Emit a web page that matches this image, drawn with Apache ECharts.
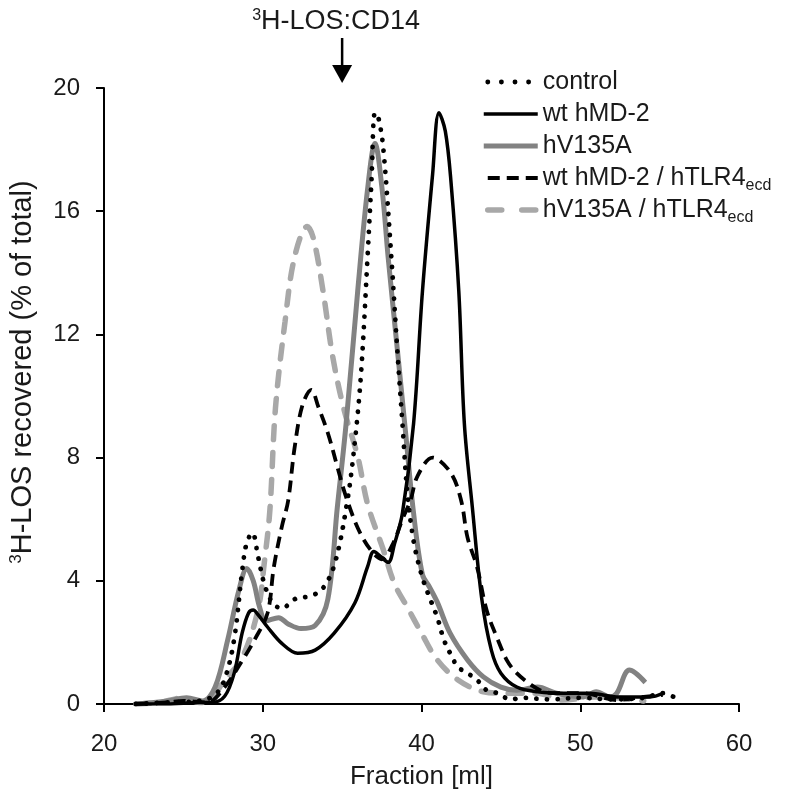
<!DOCTYPE html>
<html>
<head>
<meta charset="utf-8">
<script src="https://cdn.jsdelivr.net/npm/echarts@6/dist/echarts.min.js"></script>
<style>
html,body{margin:0;padding:0;background:#fff;}
#chart{width:800px;height:807px;}
</style>
</head>
<body>
<div id="chart"></div>
<script>
// ---- data ----
const xTicks = [20, 30, 40, 50, 60];
const yTicks = [0, 4, 8, 12, 16, 20];
const arrowAt = 35; // fraction where 3H-LOS:CD14 elutes

const controlX = [22, 24, 26, 27, 27.6, 28.2, 28.7, 29.0, 29.35, 29.7, 30.1, 30.6, 31.2, 32.0, 32.9, 33.7, 34.5, 35.3, 35.8, 36.2, 36.6, 36.85, 37.07, 37.3, 37.6, 38.1, 38.5, 38.8, 39.1, 39.5, 40.0, 40.4, 41.0, 41.4, 41.8, 42.3, 42.9, 43.5, 44.1, 44.8, 45.6, 46.4, 48.0, 50.0, 52.0, 54.0, 55.2, 56.0];
const controlY = [0, 0.05, 0.1, 0.3, 0.8, 2.1, 4.3, 5.26, 5.55, 4.8, 3.9, 3.3, 3.1, 3.4, 3.5, 3.7, 4.5, 6.5, 8.5, 10.8, 14.5, 17.0, 19.2, 19.0, 18.0, 14.5, 11.3, 9.1, 6.9, 5.3, 4.2, 3.6, 2.8, 2.1, 1.65, 1.2, 1.0, 0.78, 0.45, 0.35, 0.15, 0.2, 0.15, 0.2, 0.15, 0.2, 0.35, 0.2];

const wtX = [22, 24, 26, 26.8, 27.6, 28.2, 28.7, 29.1, 29.4, 29.7, 30.3, 31.2, 32.2, 33.3, 34.5, 35.8, 36.6, 37.0, 37.4, 37.9, 38.3, 38.8, 39.5, 40.06, 40.7, 41.1, 41.5, 41.85, 42.35, 42.7, 43.2, 43.8, 44.4, 45.0, 46.0, 47.3, 49.2, 50.6, 52.3, 54.4, 55.2];
const wtY = [0, 0, 0.05, 0.05, 0.25, 1.0, 2.3, 2.95, 3.05, 2.9, 2.5, 1.97, 1.65, 1.75, 2.3, 3.28, 4.45, 4.95, 4.8, 4.6, 5.2, 6.2, 9.1, 13.4, 17.2, 19.2, 18.6, 17.0, 13.4, 9.1, 6.4, 3.4, 1.75, 1.0, 0.55, 0.4, 0.35, 0.35, 0.23, 0.23, 0.35];

const hvX = [22, 24, 25.2, 26.2, 27.0, 27.8, 28.5, 29.0, 29.4, 29.8, 30.2, 31.0, 31.6, 32.4, 33.3, 34.1, 34.7, 35.25, 35.98, 36.6, 37.07, 37.5, 37.9, 38.5, 39.0, 39.5, 40.06, 40.5, 41.0, 41.8, 42.9, 43.9, 45.0, 46.0, 47.3, 48.5, 50.2, 51.0, 51.9, 52.3, 53.1, 54.1];
const hvY = [0, 0.1, 0.2, 0.1, 0.55, 2.1, 3.7, 4.4, 4.0, 3.15, 2.7, 2.8, 2.6, 2.45, 2.55, 3.4, 6.4, 9.1, 13.4, 16.7, 18.2, 16.8, 14.5, 11.4, 8.8, 6.2, 4.2, 3.8, 3.3, 2.3, 1.43, 0.88, 0.55, 0.45, 0.55, 0.35, 0.23, 0.4, 0.23, 0.35, 1.1, 0.7];

const wtTlrX = [22, 24, 25, 26.5, 27.6, 28.7, 29.5, 30.3, 30.7, 31.2, 31.6, 32.0, 32.5, 33.06, 33.5, 34.1, 34.7, 35.2, 36.0, 36.8, 37.5, 38.2, 38.8, 39.3, 39.75, 40.7, 41.85, 42.5, 42.9, 43.5, 44.1, 44.8, 45.4, 46.0, 46.9, 47.7, 48.5, 50.2, 52.3, 54.0, 55.2];
const wtTlrY = [0, 0.05, 0.1, 0.05, 0.55, 1.4, 2.1, 2.95, 4.45, 5.75, 6.6, 8.3, 9.7, 10.2, 9.65, 8.8, 7.7, 6.8, 5.7, 5.0, 4.7, 5.2, 6.0, 6.6, 7.4, 8.0, 7.5, 6.6, 5.4, 4.45, 3.05, 2.1, 1.4, 1.0, 0.62, 0.4, 0.35, 0.35, 0.13, 0.23, 0.3];

const hvTlrX = [22, 23.5, 25, 26, 26.6, 27.6, 28.7, 29.7, 30.1, 30.45, 30.8, 31.4, 32.0, 32.8, 33.2, 33.8, 34.4, 35.1, 36.0, 36.6, 37.6, 38.3, 39.1, 40.0, 41.0, 42.3, 43.9, 45.4, 47.3, 48.9, 51.0, 54.0];
const hvTlrY = [0, 0.05, 0.2, 0.05, 0.1, 0.78, 1.5, 3.05, 4.6, 6.3, 9.6, 12.4, 14.5, 15.5, 15.1, 13.4, 11.3, 9.6, 8.0, 6.5, 5.0, 3.9, 3.15, 2.3, 1.43, 0.78, 0.4, 0.35, 0.35, 0.13, 0.23, 0.1];

const seriesNames = ['control', 'wt hMD-2', 'hV135A', 'wt hMD-2 / hTLR4ecd', 'hV135A / hTLR4ecd'];

// ---- chart ----
const zip = (xs, ys) => xs.map((x, i) => [x, ys[i]]);
const FONT = 'Liberation Sans, Arial, sans-serif';
const TXT = '#1a1a1a';

const styles = {
  'control': { color: '#000', width: 4.8, type: [0.1, 10.5], cap: 'round' },
  'wt hMD-2': { color: '#000', width: 3.5, type: 'solid' },
  'hV135A': { color: '#828282', width: 5, type: 'solid' },
  'wt hMD-2 / hTLR4ecd': { color: '#000', width: 3.8, type: [12, 7] },
  'hV135A / hTLR4ecd': { color: '#a8a8a8', width: 5.5, type: [14, 13], cap: 'round' }
};
const legendStyles = Object.assign({}, styles, {
  'control': { color: '#000', width: 4.8, type: [0.1, 13.5], cap: 'round', dashOffset: -4 },
  'hV135A / hTLR4ecd': { color: '#a8a8a8', width: 5.5, type: [14, 20], cap: 'round', dashOffset: -4 }
});
const dataMap = {
  'control': zip(controlX, controlY),
  'wt hMD-2': zip(wtX, wtY),
  'hV135A': zip(hvX, hvY),
  'wt hMD-2 / hTLR4ecd': zip(wtTlrX, wtTlrY),
  'hV135A / hTLR4ecd': zip(hvTlrX, hvTlrY)
};
const drawOrder = ['hV135A / hTLR4ecd', 'hV135A', 'wt hMD-2 / hTLR4ecd', 'wt hMD-2', 'control'];

const chart = echarts.init(document.getElementById('chart'), null, { renderer: 'canvas' });
chart.setOption({
  animation: false,
  backgroundColor: '#fff',
  textStyle: { fontFamily: FONT },
  grid: { left: 102, right: 61, top: 88, bottom: 103 },
  legend: {
    orient: 'vertical',
    left: 481,
    top: 66,
    padding: 0,
    itemWidth: 54,
    itemHeight: 14,
    itemGap: 0,
    itemStyle: { opacity: 0 },
    data: seriesNames.map(n => ({ name: n, lineStyle: legendStyles[n], itemStyle: { opacity: 0 } })),
    textStyle: {
      fontFamily: FONT, fontSize: 25, color: TXT, lineHeight: 32,
      rich: { sub: { fontFamily: FONT, fontSize: 16, color: TXT, verticalAlign: 'bottom' } }
    },
    formatter: n => n.endsWith('ecd') ? n.slice(0, -3) + '{sub|ecd}' : n
  },
  xAxis: {
    type: 'value',
    min: xTicks[0], max: xTicks[xTicks.length - 1], interval: xTicks[1] - xTicks[0],
    name: 'Fraction [ml]', nameLocation: 'middle', nameGap: 60,
    nameTextStyle: { fontFamily: FONT, fontSize: 26, color: TXT },
    axisLine: { onZero: false, lineStyle: { color: '#000', width: 2 } },
    axisTick: { inside: false, length: 8, lineStyle: { color: '#000', width: 2 } },
    axisLabel: { margin: 28, fontFamily: FONT, fontSize: 24, color: TXT },
    splitLine: { show: false }
  },
  yAxis: {
    type: 'value',
    min: yTicks[0], max: yTicks[yTicks.length - 1], interval: yTicks[1] - yTicks[0],
    name: '{sup|3}H-LOS recovered (% of total)', nameLocation: 'middle', nameGap: 66, nameRotate: 90,
    nameTextStyle: {
      fontFamily: FONT, fontSize: 29, color: TXT, lineHeight: 30,
      padding: [0, 0, 0, 48],
      rich: { sup: { fontFamily: FONT, fontSize: 17, color: TXT, verticalAlign: 'top' } }
    },
    axisLine: { show: true, lineStyle: { color: '#000', width: 2 } },
    axisTick: { show: true, inside: false, length: 8, lineStyle: { color: '#000', width: 2 } },
    axisLabel: { margin: 24, fontFamily: FONT, fontSize: 24, color: TXT },
    splitLine: { show: false }
  },
  series: drawOrder.map(n => ({
    name: n,
    type: 'line',
    data: dataMap[n],
    smooth: 0.35,
    symbol: 'none',
    clip: true,
    lineStyle: styles[n],
    itemStyle: { color: styles[n].color }
  }))
});

// annotation arrow at fraction 35 above the plot
const arrowPt = chart.convertToPixel({ xAxisIndex: 0, yAxisIndex: 0 }, [arrowAt, yTicks[yTicks.length - 1]]);
const ax = arrowPt[0], ay = arrowPt[1];
chart.setOption({
  graphic: [
    { type: 'line', shape: { x1: ax, y1: ay - 50, x2: ax, y2: ay - 20 }, style: { stroke: '#000', lineWidth: 2.5 } },
    { type: 'polygon', shape: { points: [[ax - 10, ay - 23], [ax + 10, ay - 23], [ax, ay - 5]] }, style: { fill: '#000' } },
    {
      type: 'text', x: ax - 6, y: ay - 66,
      style: {
        text: '{sup|3}H-LOS:CD14', align: 'center', verticalAlign: 'middle',
        fontFamily: FONT, fontSize: 27, fill: TXT, lineHeight: 28,
        rich: { sup: { fontFamily: FONT, fontSize: 16, fill: TXT, verticalAlign: 'top' } }
      }
    }
  ]
});
</script>
</body>
</html>
